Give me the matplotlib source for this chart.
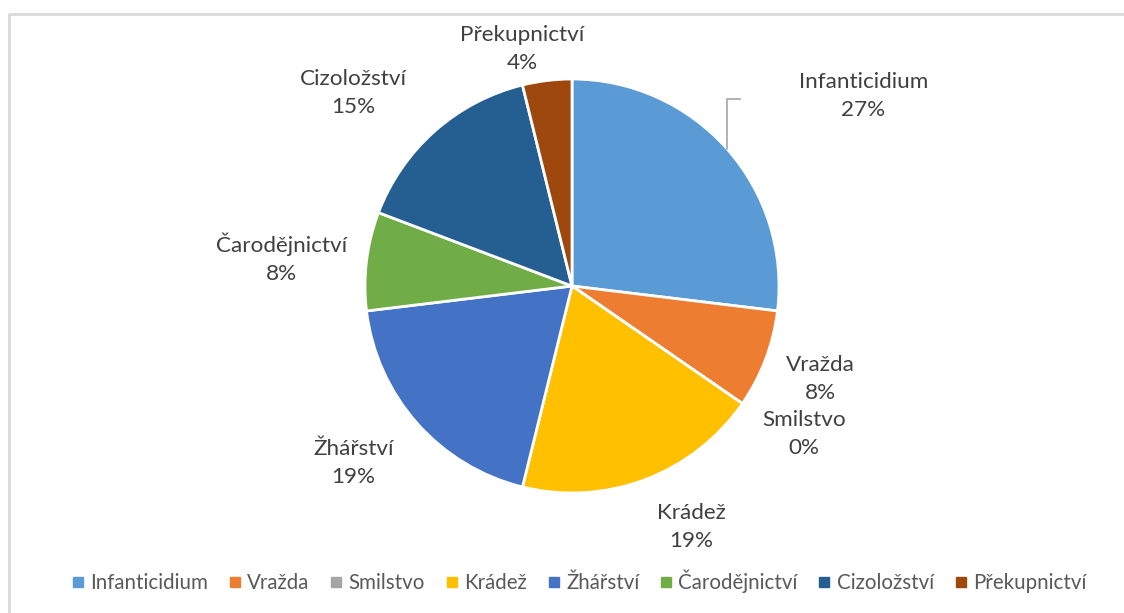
import numpy as np
import matplotlib
matplotlib.use("Agg")
import matplotlib.pyplot as plt
from matplotlib.lines import Line2D

categories = ["Infanticidium", "Vražda", "Smilstvo", "Krádež", "Žhářství",
              "Čarodějnictví", "Cizoložství", "Překupnictví"]
counts = [7, 2, 0, 5, 5, 2, 4, 1]
colors = ["#5B9BD5", "#ED7D31", "#A5A5A5", "#FFC000", "#4472C4",
          "#70AD47", "#255E91", "#9E480E"]

# label placement: (angle tweak in degrees clockwise, distance in radii)
label_layout = [(8.4, 1.68), (-0.2, 1.28), (-2.1, 1.33), (-5.6, 1.30),
                (2.5, 1.36), (-1.4, 1.41), (-7.1, 1.41), (-5.0, 1.17)]

W, H = 1124, 613
plt.rcParams['font.family'] = ['Lato', 'DejaVu Sans']

fig = plt.figure(figsize=(W / 100, H / 100), dpi=100)
ax = fig.add_axes([0, 0, 1, 1])

cx, cy, R = 572, H - 286, 207
wedges, _ = ax.pie(counts, colors=colors, startangle=90, counterclock=False,
                   center=(cx, cy), radius=R,
                   wedgeprops=dict(edgecolor="white", linewidth=2))
ax.set_xlim(0, W)
ax.set_ylim(0, H)
ax.set_aspect("equal")
ax.axis("off")

total = sum(counts)
frac_start = 0
for i, (name, v) in enumerate(zip(categories, counts)):
    mid = (frac_start + v / 2) / total * 360  # clockwise from top
    frac_start += v
    tweak, dist = label_layout[i]
    a = np.radians(mid + tweak)
    lx = cx + dist * R * np.sin(a)
    ly = cy + dist * R * np.cos(a)
    pct = "{:.0f}%".format(v / total * 100)
    ax.text(lx, ly, name + "\n" + pct, ha="center", va="center",
            fontsize=16.2, color="#404040", linespacing=1.5)
    if i == 0:
        am = np.radians(mid)
        ex = cx + R * np.sin(am)
        ey = cy + R * np.cos(am)
        ax.plot([ex, ex, ex + 13], [ey, ey + 50, ey + 50], color="#A6A6A6",
                lw=1.2, solid_joinstyle="miter")

handles = [Line2D([], [], marker="s", linestyle="none", markersize=7,
                  markerfacecolor=c, markeredgecolor=c) for c in colors]
ax.legend(handles, categories, loc="center", bbox_to_anchor=(577 / W, 1 - 581 / H),
          ncol=len(categories), frameon=False, fontsize=14.8, labelcolor="#595959",
          handletextpad=0.1, columnspacing=0.8, handlelength=1.0)

# chart area border (top and left edges visible)
ax.plot([9, 9, W + 5], [-5, H - 14, H - 14], color="#D9D9D9", lw=2)

fig.savefig("out.png", dpi=100)
